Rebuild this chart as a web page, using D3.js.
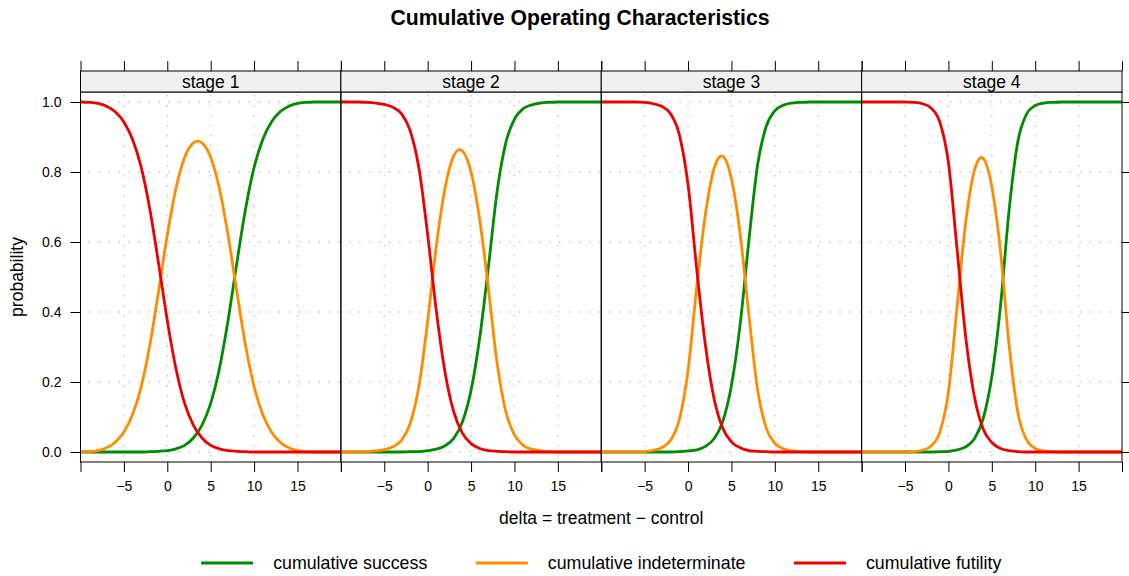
<!DOCTYPE html>
<html><head><meta charset="utf-8">
<script src="https://cdn.jsdelivr.net/npm/d3@7"></script>
<style>
body{margin:0;background:#fff}
svg{display:block}
text{font-family:"Liberation Sans",Arial,Helvetica,sans-serif;fill:#000}
</style>
</head><body>
<svg id="chart" width="1129" height="576"></svg>
<script>
// ---------------- data ----------------
const delta = [-10,-9,-8,-7,-6,-5,-4,-3,-2,-1,0,1,2,3,4,5,6,7,8,9,10,11,12,13,14,15,16,17,18,19,20];
const stages = ["stage 1","stage 2","stage 3","stage 4"];

const success1 = [0,0,0,0,0,0,0,0,0.001,0.002,0.004,0.009,0.019,0.040,0.077,0.139,0.238,0.376,0.538,0.692,0.813,0.893,0.943,0.972,0.988,0.996,0.999,1,1,1,1];
const indeterminate1 = [0,0.001,0.004,0.012,0.028,0.057,0.107,0.187,0.307,0.460,0.620,0.753,0.842,0.883,0.883,0.842,0.753,0.620,0.460,0.307,0.187,0.107,0.057,0.028,0.012,0.004,0.001,0,0,0,0];
const futility1 = [1,0.999,0.996,0.988,0.972,0.943,0.893,0.813,0.692,0.538,0.376,0.238,0.139,0.077,0.040,0.019,0.009,0.004,0.002,0.001,0,0,0,0,0,0,0,0,0,0,0];

const success2 = [0,0,0,0,0,0,0,0,0.001,0.001,0.004,0.008,0.018,0.039,0.086,0.176,0.327,0.529,0.744,0.883,0.951,0.981,0.992,0.997,0.999,1,1,1,1,1,1];
const indeterminate2 = [0,0,0,0.001,0.003,0.007,0.015,0.034,0.082,0.189,0.375,0.589,0.754,0.846,0.860,0.800,0.663,0.467,0.254,0.116,0.049,0.019,0.008,0.003,0.001,0,0,0,0,0,0];
const futility2 = [1,1,1,0.999,0.997,0.993,0.985,0.966,0.917,0.810,0.621,0.403,0.228,0.115,0.054,0.024,0.010,0.004,0.002,0.001,0,0,0,0,0,0,0,0,0,0,0];

const success3 = [0,0,0,0,0,0,0,0,0,0.001,0.003,0.006,0.016,0.038,0.087,0.190,0.364,0.602,0.818,0.930,0.975,0.991,0.997,0.999,1,1,1,1,1,1,1];
const indeterminate3 = [0,0,0,0,0,0.001,0.005,0.013,0.034,0.093,0.233,0.472,0.679,0.810,0.845,0.781,0.624,0.394,0.180,0.069,0.025,0.009,0.003,0.001,0,0,0,0,0,0,0];
const futility3 = [1,1,1,1,1,0.999,0.995,0.987,0.966,0.906,0.764,0.522,0.305,0.152,0.068,0.029,0.012,0.004,0.002,0.001,0,0,0,0,0,0,0,0,0,0,0];

const success4 = [0,0,0,0,0,0,0,0,0,0.001,0.002,0.006,0.015,0.038,0.095,0.215,0.417,0.693,0.887,0.965,0.990,0.997,0.999,1,1,1,1,1,1,1,1];
const indeterminate4 = [0,0,0,0,0,0,0.001,0.005,0.017,0.056,0.171,0.416,0.658,0.805,0.839,0.758,0.573,0.303,0.112,0.035,0.010,0.003,0.001,0,0,0,0,0,0,0,0];
const futility4 = [1,1,1,1,1,1,0.999,0.995,0.983,0.943,0.827,0.578,0.327,0.157,0.066,0.027,0.010,0.004,0.001,0,0,0,0,0,0,0,0,0,0,0,0];

const seriesNames = ["cumulative success","cumulative indeterminate","cumulative futility"];
const seriesColors = ["#008B00","#FF8C00","#EE0000"];
const xTicks = [-10,-5,0,5,10,15,20];
const xTickLabels = ["","\u22125","0","5","10","15",""];
const xGrid = [-5,0,5,10,15];
const yTicks = [0,0.2,0.4,0.6,0.8,1.0];
const yTickLabels = ["0.0","0.2","0.4","0.6","0.8","1.0"];

const panelData = [
  [success1, indeterminate1, futility1],
  [success2, indeterminate2, futility2],
  [success3, indeterminate3, futility3],
  [success4, indeterminate4, futility4]
];

// ---------------- layout ----------------
const svg = d3.select("#chart");
const L = 80.5, R = 1122, pw = (R - L) / 4;
const pTop = 92, pBot = 462, stripTop = 71;
const y = d3.scaleLinear().domain([0, 1]).range([452, 102]);

const defs = svg.append("defs");

panelData.forEach((series, i) => {
  const left = L + i * pw;
  const x = d3.scaleLinear().domain([-10, 20]).range([left, left + pw]);
  const g = svg.append("g");

  defs.append("clipPath").attr("id", "clip" + i)
    .append("rect").attr("x", left).attr("y", pTop).attr("width", pw).attr("height", pBot - pTop);

  // grid
  const grid = g.append("g").attr("stroke", "#c4c4c4").attr("stroke-width", 1.3)
    .attr("stroke-dasharray", "1.5 8.5");
  xGrid.forEach(v => grid.append("line")
    .attr("x1", x(v)).attr("x2", x(v)).attr("y1", pTop + 3).attr("y2", pBot));
  yTicks.forEach(v => grid.append("line")
    .attr("x1", left + 8).attr("x2", left + pw).attr("y1", y(v)).attr("y2", y(v)));

  // curves
  const line = d3.line()
    .x((d, k) => x(delta[k]))
    .y(d => y(d))
    .curve(d3.curveCatmullRom.alpha(0));
  const cg = g.append("g").attr("clip-path", `url(#clip${i})`);
  series.forEach((vals, s) => {
    cg.append("path").attr("d", line(vals))
      .attr("fill", "none").attr("stroke", seriesColors[s])
      .attr("stroke-width", 2.8).attr("stroke-linejoin", "round");
  });

  // panel border
  g.append("rect").attr("x", left).attr("y", pTop).attr("width", pw).attr("height", pBot - pTop)
    .attr("fill", "none").attr("stroke", "#000").attr("stroke-width", 1);

  // strip
  g.append("rect").attr("x", left).attr("y", stripTop).attr("width", pw).attr("height", pTop - stripTop)
    .attr("fill", "#f0f0f0").attr("stroke", "#000").attr("stroke-width", 1);
  g.append("text").attr("x", left + pw / 2).attr("y", 87.5).attr("text-anchor", "middle")
    .style("font-size", "17.5px").text(stages[i]);

  // bottom axis
  const ab = g.append("g").attr("transform", `translate(0,${pBot})`)
    .call(d3.axisBottom(x).tickValues(xTicks).tickSize(10).tickPadding(9.5)
      .tickFormat((d, k) => xTickLabels[k]));
  ab.select(".domain").remove();
  // top axis
  const at = g.append("g").attr("transform", `translate(0,${stripTop})`)
    .call(d3.axisTop(x).tickValues(xTicks).tickSize(10).tickFormat(""));
  at.select(".domain").remove();

  if (i === 0) {
    const al = g.append("g").attr("transform", `translate(${left},0)`)
      .call(d3.axisLeft(y).tickValues(yTicks).tickSize(10).tickPadding(9)
        .tickFormat((d, k) => yTickLabels[k]));
    al.select(".domain").remove();
  }
  if (i === 3) {
    const ar = g.append("g").attr("transform", `translate(${left + pw},0)`)
      .call(d3.axisRight(y).tickValues(yTicks).tickSize(10).tickFormat(""));
    ar.select(".domain").remove();
  }
});

svg.selectAll(".tick line").attr("stroke", "#000").attr("stroke-width", 1);
svg.selectAll(".tick text").attr("font-family", null).style("font-size", "14px").attr("fill", "#000");

// titles
svg.append("text").attr("x", 580).attr("y", 25).attr("text-anchor", "middle")
  .style("font-size", "21.2px").style("font-weight", "bold")
  .text("Cumulative Operating Characteristics");
svg.append("text").attr("x", (L + R) / 2).attr("y", 524).attr("text-anchor", "middle")
  .style("font-size", "17.5px").text("delta = treatment \u2212 control");
svg.append("text").attr("transform", "translate(23,277) rotate(-90)").attr("text-anchor", "middle")
  .style("font-size", "17.5px").text("probability");

// legend
const lg = svg.append("g");
const lineLen = 52, lineGap = 20, entryGap = 48.5, legY = 563;
const items = seriesNames.map((name, s) => {
  const t = lg.append("text").attr("y", legY + 6.3).style("font-size", "17.8px").text(name);
  return {t, w: t.node().getComputedTextLength(), s};
});
const total = d3.sum(items, d => lineLen + lineGap + d.w) + entryGap * (items.length - 1);
let cx = (L + R) / 2 - total / 2;
items.forEach(d => {
  lg.append("line").attr("x1", cx).attr("x2", cx + lineLen).attr("y1", legY).attr("y2", legY)
    .attr("stroke", seriesColors[d.s]).attr("stroke-width", 2.8);
  d.t.attr("x", cx + lineLen + lineGap);
  cx += lineLen + lineGap + d.w + entryGap;
});
</script>
</body></html>
